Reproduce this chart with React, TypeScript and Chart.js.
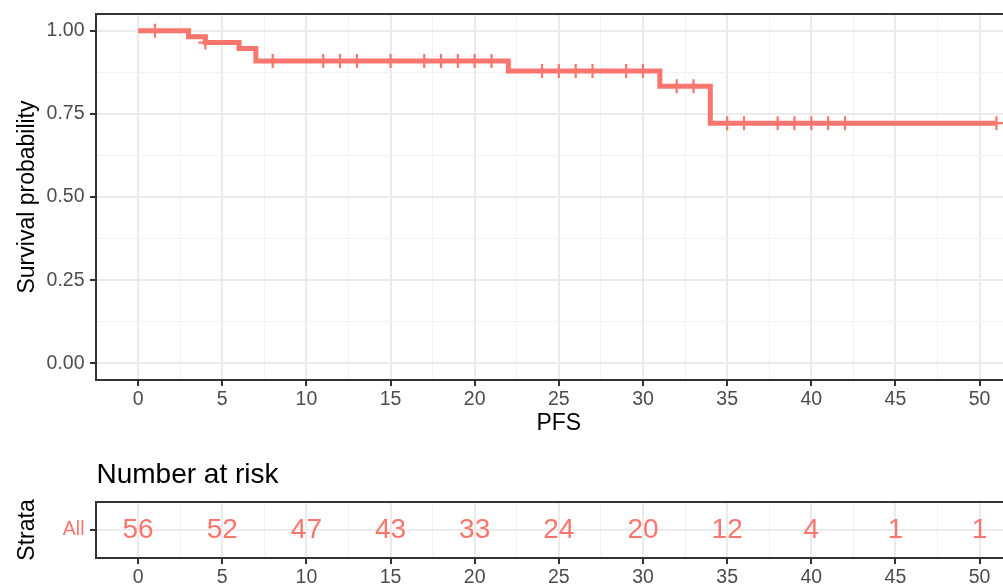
import React, { useEffect, useRef } from "react";
import { Chart, registerables } from "chart.js";

Chart.register(...registerables);

// ---------------- data ----------------
const stepTimes = [0, 3, 4, 6, 7, 22, 31, 34, 51];
const stepSurv = [1.0, 0.982, 0.964, 0.946, 0.909, 0.879, 0.833, 0.722, 0.722];
const censorTimes = [1, 4, 8, 11, 12, 13, 15, 17, 18, 19, 20, 21, 24, 25, 26, 27, 29, 30, 32, 33, 35, 36, 38, 39, 40, 41, 42, 51];
const riskTimes = [0, 5, 10, 15, 20, 25, 30, 35, 40, 45, 50];
const riskCounts = [56, 52, 47, 43, 33, 24, 20, 12, 4, 1, 1];
const xMajorTicks = [0, 5, 10, 15, 20, 25, 30, 35, 40, 45, 50];
const xMinorTicks = [2.5, 7.5, 12.5, 17.5, 22.5, 27.5, 32.5, 37.5, 42.5, 47.5];
const yMajorTicks = [0, 0.25, 0.5, 0.75, 1];
const yMajorLabels = ["0.00", "0.25", "0.50", "0.75", "1.00"];
const yMinorTicks = [0.125, 0.375, 0.625, 0.875];
const strataLabels = ["All"];

// ---------------- style ----------------
const FONT = '"Liberation Sans", Arial, Helvetica, sans-serif';
const RED = "#F8766D";
const GRID = "#EBEBEB";
const GRID_MINOR = "#F2F2F2";
const TICK_TEXT = "#4D4D4D";
const BORDER = "#333333";
const CANVAS_W = 1030;
const PANEL_LEFT = 96;
const PANEL_RIGHT = 1021.7;
const MAIN_H = 440;
const MAIN_TOP = 14;
const MAIN_BOTTOM = 380;
const RISK_OFFSET = 440;
const RISK_H = 145;
const RISK_TOP = 62;
const RISK_BOTTOM = 118;
const TICK_FONT = 19.5;
const TITLE_FONT = 23;

function survAt(t: number): number {
  let s = stepSurv[0];
  for (let i = 0; i < stepTimes.length; i++) {
    if (stepTimes[i] <= t) s = stepSurv[i];
  }
  return s;
}

function near(a: number, b: number) {
  return Math.abs(a - b) < 1e-6;
}

function isMajorX(v: number) {
  return xMajorTicks.some((m) => near(m, v));
}

function zeroPad(s: any) {
  s.paddingLeft = 0;
  s.paddingRight = 0;
  s.paddingTop = 0;
  s.paddingBottom = 0;
}

function makeXScale(height: number) {
  return {
    type: "linear",
    position: "bottom",
    min: -2.5,
    max: 52.5,
    afterBuildTicks: (s: any) => {
      s.ticks = [...xMajorTicks, ...xMinorTicks].sort((a, b) => a - b).map((v) => ({ value: v }));
    },
    afterFit: (s: any) => {
      s.height = height;
      zeroPad(s);
    },
    border: { display: false },
    grid: {
      drawTicks: true,
      tickLength: 6,
      tickWidth: 2,
      color: (c: any) => (c.tick && isMajorX(c.tick.value) ? GRID : GRID_MINOR),
      lineWidth: (c: any) => (c.tick && isMajorX(c.tick.value) ? 2 : 1),
      tickColor: (c: any) => (c.tick && isMajorX(c.tick.value) ? BORDER : "rgba(0,0,0,0)"),
    },
    ticks: {
      autoSkip: false,
      maxRotation: 0,
      minRotation: 0,
      padding: 1.5,
      color: TICK_TEXT,
      font: { family: FONT, size: TICK_FONT },
      callback: (v: any) => {
        const i = xMajorTicks.findIndex((m) => near(m, Number(v)));
        return i >= 0 ? String(xMajorTicks[i]) : "";
      },
    },
  };
}

const borderPlugin = {
  id: "panelBorder",
  afterDatasetsDraw(chart: any) {
    const { ctx, chartArea } = chart;
    ctx.save();
    ctx.strokeStyle = BORDER;
    ctx.lineWidth = 2;
    ctx.strokeRect(chartArea.left, chartArea.top, chartArea.right - chartArea.left, chartArea.bottom - chartArea.top);
    ctx.restore();
  },
};

const mainTitlesPlugin = {
  id: "mainTitles",
  afterDraw(chart: any) {
    const { ctx, chartArea } = chart;
    ctx.save();
    ctx.fillStyle = "#000000";
    ctx.font = `${TITLE_FONT}px ${FONT}`;
    ctx.textAlign = "center";
    ctx.textBaseline = "alphabetic";
    ctx.fillText("PFS", (chartArea.left + chartArea.right) / 2, 430);
    ctx.translate(33.5, (chartArea.top + chartArea.bottom) / 2);
    ctx.rotate(-Math.PI / 2);
    ctx.fillText("Survival probability", 0, 0);
    ctx.restore();
  },
};

const riskTextPlugin = {
  id: "riskText",
  afterDraw(chart: any) {
    const { ctx, chartArea } = chart;
    const meta = chart.getDatasetMeta(0);
    ctx.save();
    ctx.fillStyle = RED;
    ctx.font = `28px ${FONT}`;
    ctx.textAlign = "center";
    ctx.textBaseline = "middle";
    meta.data.forEach((el: any, i: number) => {
      ctx.fillText(String(riskCounts[i]), el.x, el.y);
    });
    ctx.fillStyle = "#000000";
    ctx.textAlign = "left";
    ctx.textBaseline = "alphabetic";
    ctx.font = `28px ${FONT}`;
    ctx.fillText("Number at risk", chartArea.left + 0.5, 43);
    ctx.font = `${TITLE_FONT}px ${FONT}`;
    ctx.textAlign = "center";
    ctx.translate(34, (chartArea.top + chartArea.bottom) / 2);
    ctx.rotate(-Math.PI / 2);
    ctx.fillText("Strata", 0, 0);
    ctx.restore();
  },
};

export default function App() {
  const mainRef = useRef<HTMLCanvasElement | null>(null);
  const riskRef = useRef<HTMLCanvasElement | null>(null);

  useEffect(() => {
    if (!mainRef.current || !riskRef.current) return;

    const curve = stepTimes.map((t, i) => ({ x: t, y: stepSurv[i] }));
    const censors = censorTimes.map((t) => ({ x: t, y: survAt(t) }));

    const main = new Chart(mainRef.current, {
      type: "scatter",
      data: {
        datasets: [
          {
            type: "scatter",
            data: censors,
            pointStyle: "cross",
            pointRadius: 7,
            pointBorderWidth: 2.2,
            borderColor: RED,
            backgroundColor: RED,
            showLine: false,
          } as any,
          {
            type: "line",
            data: curve,
            stepped: "before",
            borderColor: RED,
            borderWidth: 5,
            pointRadius: 0,
            fill: false,
            tension: 0,
            borderJoinStyle: "miter",
            borderCapStyle: "butt",
          } as any,
        ],
      },
      options: {
        animation: false,
        responsive: false,
        maintainAspectRatio: false,
        devicePixelRatio: 1,
        events: [],
        layout: {
          autoPadding: false,
          padding: { left: 0, top: MAIN_TOP, right: CANVAS_W - PANEL_RIGHT, bottom: 0 },
        },
        plugins: { legend: { display: false }, tooltip: { enabled: false }, title: { display: false } },
        scales: {
          x: makeXScale(MAIN_H - MAIN_BOTTOM) as any,
          y: {
            type: "linear",
            min: -0.05,
            max: 1.05,
            afterBuildTicks: (s: any) => {
              s.ticks = [...yMajorTicks, ...yMinorTicks].sort((a, b) => a - b).map((v) => ({ value: v }));
            },
            afterFit: (s: any) => {
              s.width = PANEL_LEFT;
              zeroPad(s);
            },
            border: { display: false },
            grid: {
              drawTicks: true,
              tickLength: 6,
              tickWidth: 2,
              color: (c: any) => (c.tick && yMajorTicks.some((m) => near(m, c.tick.value)) ? GRID : GRID_MINOR),
              lineWidth: (c: any) => (c.tick && yMajorTicks.some((m) => near(m, c.tick.value)) ? 2 : 1),
              tickColor: (c: any) =>
                c.tick && yMajorTicks.some((m) => near(m, c.tick.value)) ? BORDER : "rgba(0,0,0,0)",
            },
            ticks: {
              autoSkip: false,
              padding: 5.5,
              color: TICK_TEXT,
              font: { family: FONT, size: TICK_FONT },
              callback: (v: any) => {
                const i = yMajorTicks.findIndex((m) => near(m, Number(v)));
                return i >= 0 ? yMajorLabels[i] : "";
              },
            },
          } as any,
        },
      },
      plugins: [borderPlugin, mainTitlesPlugin],
    });

    const risk = new Chart(riskRef.current, {
      type: "scatter",
      data: {
        datasets: [
          {
            data: riskTimes.map((t) => ({ x: t, y: 0 })),
            pointRadius: 0,
            showLine: false,
          },
        ],
      },
      options: {
        animation: false,
        responsive: false,
        maintainAspectRatio: false,
        devicePixelRatio: 1,
        events: [],
        layout: {
          autoPadding: false,
          padding: { left: 0, top: RISK_TOP, right: CANVAS_W - PANEL_RIGHT, bottom: 0 },
        },
        plugins: { legend: { display: false }, tooltip: { enabled: false }, title: { display: false } },
        scales: {
          x: makeXScale(RISK_H - RISK_BOTTOM) as any,
          y: {
            type: "linear",
            min: -0.5,
            max: 0.5,
            afterBuildTicks: (s: any) => {
              s.ticks = [{ value: 0 }];
            },
            afterFit: (s: any) => {
              s.width = PANEL_LEFT;
              zeroPad(s);
            },
            border: { display: false },
            grid: {
              drawTicks: true,
              tickLength: 6,
              tickWidth: 2,
              color: GRID,
              lineWidth: 2,
              tickColor: BORDER,
            },
            ticks: {
              autoSkip: false,
              padding: 5.5,
              color: RED,
              font: { family: FONT, size: TICK_FONT },
              callback: () => strataLabels[0],
            },
          } as any,
        },
      },
      plugins: [borderPlugin, riskTextPlugin],
    });

    return () => {
      main.destroy();
      risk.destroy();
    };
  }, []);

  return (
    <div
      style={{
        position: "absolute",
        left: 0,
        top: 0,
        width: 1003,
        height: 585,
        overflow: "hidden",
        background: "#ffffff",
      }}
    >
      <canvas
        ref={mainRef}
        width={CANVAS_W}
        height={MAIN_H}
        style={{ position: "absolute", left: 0, top: 0, width: CANVAS_W, height: MAIN_H }}
      />
      <canvas
        ref={riskRef}
        width={CANVAS_W}
        height={RISK_H}
        style={{ position: "absolute", left: 0, top: RISK_OFFSET, width: CANVAS_W, height: RISK_H }}
      />
    </div>
  );
}
